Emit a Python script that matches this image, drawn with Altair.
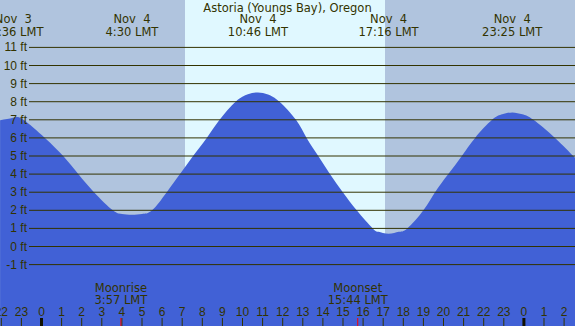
import altair as alt
import pandas as pd

# Hours are counted from midnight, Nov 4 (LMT); heights are in feet.
tide_hours = [-2.06, -1.42, -0.92, 0.17, 1.08, 1.83, 2.61, 3.55, 4.00, 4.50, 5.00,
              5.50, 6.23, 6.89, 7.54, 8.22, 8.86, 9.66, 10.27, 10.77, 11.27,
              11.84, 12.66, 13.19, 13.77, 14.35, 14.99, 15.68, 16.48, 16.77,
              17.27, 17.77, 18.20, 19.00, 19.58, 20.24, 20.91, 21.57, 22.42,
              22.92, 23.42, 23.92, 24.47, 25.55, 26.46, 26.55]
tide_feet = [6.98, 7.11, 7.02, 6.0, 5.0, 4.0, 3.0, 2.0, 1.80, 1.75, 1.80,
             2.0, 3.0, 4.0, 5.0, 6.0, 7.0, 8.0, 8.41, 8.51, 8.40,
             8.0, 7.0, 6.0, 5.0, 4.0, 3.0, 2.0, 1.0, 0.81,
             0.70, 0.81, 1.0, 2.0, 3.0, 4.0, 5.0, 6.0, 7.0,
             7.30, 7.41, 7.30, 7.0, 6.0, 5.0, 4.9]

# High / low water times printed along the top
extreme_hours = [-1.40, 4.50, 10.767, 17.267, 23.417]
extreme_dates = ["Nov\u00a0\u00a03", "Nov\u00a0\u00a04", "Nov\u00a0\u00a04",
                 "Nov\u00a0\u00a04", "Nov\u00a0\u00a04"]
extreme_times = ["22:36 LMT", "4:30 LMT", "10:46 LMT", "17:16 LMT", "23:25 LMT"]

# Daylight window
sunrise_hour = 7.14
sunset_hour = 17.09

# Moon events
moon_hours = [3.95, 15.733]
moon_events = ["Moonrise", "Moonset"]
moon_times = ["3:57 LMT", "15:44 LMT"]

depth_levels = list(range(-1, 12))
hour_ticks = list(range(-2, 27))

station = "Astoria (Youngs Bay), Oregon"

X_DOMAIN = [-2.0647, 26.5423]
Y_DOMAIN = [-4.392, 13.619]
W, H = 575, 326

NIGHT = "#b0c4de"
DAY = "#e0f8ff"
WATER = "#4161d6"
INK = "#333300"
WORD_FONT = "DejaVu Sans"
NUM_FONT = "Liberation Sans"

xs = alt.Scale(domain=X_DOMAIN, nice=False, zero=False)
ys = alt.Scale(domain=Y_DOMAIN, nice=False, zero=False)

tide = pd.DataFrame({"hour": tide_hours, "ft": tide_feet})
shade = pd.DataFrame({
    "start": [X_DOMAIN[0], sunrise_hour, sunset_hour],
    "end": [sunrise_hour, sunset_hour, X_DOMAIN[1]],
    "part": ["night", "day", "night2"],
})
extremes = pd.DataFrame({"hour": extreme_hours, "date": extreme_dates,
                         "time": extreme_times})
moon = pd.DataFrame({"hour": moon_hours, "event": moon_events, "time": moon_times})
levels = pd.DataFrame({"ft": depth_levels,
                       "label": [f"{v} ft" for v in depth_levels]})
hours = pd.DataFrame({"hour": hour_ticks,
                      "label": [str(h % 24) for h in hour_ticks]})
midnights = hours[hours["hour"] % 24 == 0]

base_x = alt.X("hour:Q", scale=xs, axis=None)

background = alt.Chart(shade).mark_rect().encode(
    x=alt.X("start:Q", scale=xs, axis=None),
    x2="end:Q",
    y=alt.value(0),
    y2=alt.value(H),
    color=alt.Color("part:N", legend=None,
                    scale=alt.Scale(domain=["night", "day", "night2"],
                                    range=[NIGHT, DAY, NIGHT])),
)

water = alt.Chart(tide).mark_area(interpolate="natural", color=WATER, clip=True).encode(
    x=base_x,
    y=alt.Y("ft:Q", scale=ys, axis=None),
    y2=alt.datum(Y_DOMAIN[0]),
)

grid = alt.Chart(levels).mark_rule(color=INK, strokeWidth=1).encode(
    y=alt.Y("ft:Q", scale=ys, axis=None),
    x=alt.value(29),
    x2=alt.value(W),
)

grid_labels = alt.Chart(levels).mark_text(
    align="right", baseline="alphabetic", dy=4, font=NUM_FONT, fontSize=12, color=INK
).encode(
    y=alt.Y("ft:Q", scale=ys, axis=None),
    x=alt.value(27),
    text="label:N",
)

ticks = alt.Chart(hours).mark_rule(color=INK, strokeWidth=1).encode(
    x=base_x, y=alt.value(318), y2=alt.value(H)
)
midnight_ticks = alt.Chart(midnights).mark_rule(color="#111100", strokeWidth=3).encode(
    x=base_x, y=alt.value(318), y2=alt.value(H)
)
moon_ticks = alt.Chart(moon).mark_rule(color="#ff0000", strokeWidth=1).encode(
    x=base_x, y=alt.value(318), y2=alt.value(H)
)
hour_labels = alt.Chart(hours).mark_text(
    align="center", baseline="alphabetic", font=NUM_FONT, fontSize=12, color=INK
).encode(x=base_x, y=alt.value(315.7), text="label:N")

moon_event_text = alt.Chart(moon).mark_text(
    align="center", baseline="alphabetic", font=WORD_FONT, fontSize=11.5, color=INK
).encode(x=base_x, y=alt.value(291.7), text="event:N")
moon_time_text = alt.Chart(moon).mark_text(
    align="center", baseline="alphabetic", font=WORD_FONT, fontSize=11.5, color=INK
).encode(x=base_x, y=alt.value(303.7), text="time:N")

date_text = alt.Chart(extremes).mark_text(
    align="center", baseline="alphabetic", font=WORD_FONT, fontSize=11.5, color=INK
).encode(x=base_x, y=alt.value(23.3), text="date:N")
time_text = alt.Chart(extremes).mark_text(
    align="center", baseline="alphabetic", font=WORD_FONT, fontSize=11.5, color=INK
).encode(x=base_x, y=alt.value(36), text="time:N")

title_text = alt.Chart(pd.DataFrame({"t": [station]})).mark_text(
    align="center", baseline="alphabetic", font=WORD_FONT, fontSize=11.5, color=INK
).encode(x=alt.value(W / 2), y=alt.value(11.7), text="t:N")

chart = alt.layer(
    background, water, grid, grid_labels, ticks, midnight_ticks, moon_ticks,
    hour_labels, moon_event_text, moon_time_text, date_text, time_text, title_text,
).properties(
    width=W, height=H, padding=0, autosize=alt.AutoSizeParams(type="none")
).configure_view(stroke=None).resolve_scale(color="independent")

chart.save("out.html", embed_options={"renderer": "svg", "actions": False})
